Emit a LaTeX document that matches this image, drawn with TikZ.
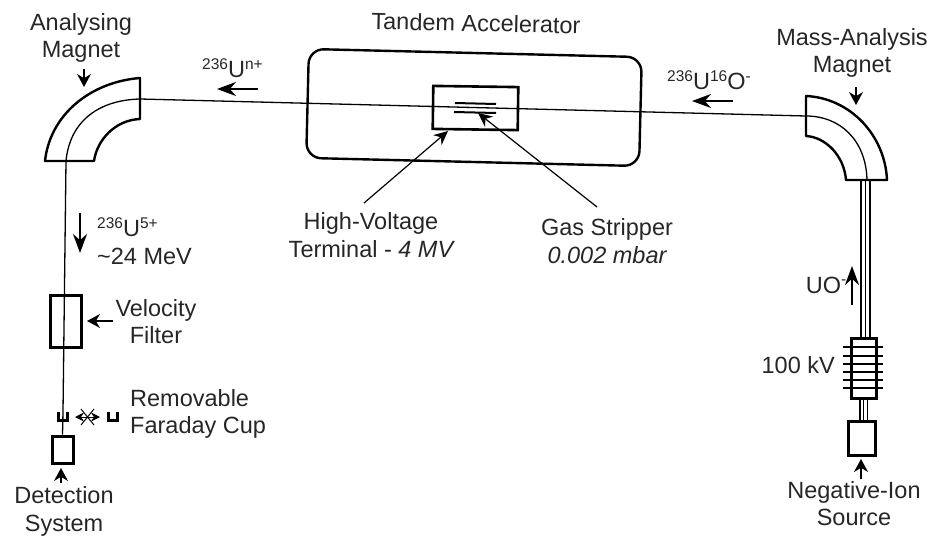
\documentclass[tikz,border=0pt]{standalone}
\usepackage{fontspec}
\setmainfont{Liberation Sans}
\usetikzlibrary{arrows.meta, positioning}
\newcommand{\supr}[1]{\raisebox{8.5pt}{\fontsize{15.5}{15.5}\selectfont #1}}
\tikzset{
    txt/.style={font=\fontsize{23.5}{27.5}\selectfont, align=center, inner sep=0pt, text=black!85},
    beam/.style={line width=1.3pt},
    magnet/.style={draw, line width=2.4pt, line join=round},
    unit/.style={rectangle, draw, line width=3pt, inner sep=0pt},
    pointer/.style={-{Stealth[length=14pt, width=13pt]}, line width=1.2pt},
    smallarrow/.style={-{Stealth[length=13pt, width=14pt]}, line width=1.5pt},
    flowarrow/.style={-{Stealth[length=19pt, width=14pt]}, line width=2pt},
    cup/.style={line width=3.6pt}
}
\begin{document}
\begin{tikzpicture}[x=1pt, y=-1pt]
\useasboundingbox (0,0) rectangle (929,536);

% Accelerator
\node[rectangle, draw, line width=2.4pt, rounded corners=15pt, minimum width=333pt, minimum height=109pt, rotate=-1.4] (tandem) at (474,107.5) {};
\node[unit, line width=2.6pt, minimum width=85pt, minimum height=43pt, rotate=-0.8] (terminal) at (475.5,108) {};
\draw[line width=2pt] (455,103) -- (496,104);
\draw[line width=2pt] (454,112) -- (496,113);

% Analysing magnet
\coordinate (aentry) at (140,99);
\coordinate (aexit) at (66,161);
\draw[magnet] (140,78) .. controls (90,82) and (50,115) .. (45,161) -- (94,161)
    .. controls (97,140) and (115,120) .. (140,119) -- cycle;
\draw[beam] (aentry) .. controls (100,100) and (70,120) .. (aexit);

% Mass-analysis magnet
\coordinate (mentry) at (806,116);
\coordinate (mexit) at (867,180);
\draw[magnet] (806,96) .. controls (850,98) and (885,135) .. (887,180) -- (846,180)
    .. controls (844,155) and (825,137) .. (806,136) -- cycle;
\draw[beam] (mentry) .. controls (840,116) and (866,140) .. (mexit);

% Source side
\node[unit, minimum width=25pt, minimum height=60pt] (insulator) at (863.5,368) {};
\node[unit, minimum width=27pt, minimum height=34pt] (source) at (861.5,438) {};
\foreach \y in {347,356,364,372,380,388}
    \draw[line width=2pt] (843,\y) -- (883,\y);
\foreach \dx in {-2.5,2,6.5}
    \draw[beam] ([xshift=\dx pt]insulator.north) -- ([xshift=\dx pt]insulator.north |- mexit);
\foreach \dx in {-3.5,0,4}
    \draw[beam] ([xshift=\dx pt]insulator.south) -- ([xshift=\dx pt]insulator.south |- source.north);

% Filter and detector
\node[unit, minimum width=31pt, minimum height=52pt] (filter) at (65.5,321) {};
\node[unit, minimum width=21pt, minimum height=27pt] (detector) at (62.5,449.5) {};
\coordinate (cupin) at (63,412);
\foreach \x in {63,113}
    \draw[cup] (\x-4.5,412) -- (\x-4.5,420.5) -- (\x+4.5,420.5) -- (\x+4.5,412);

% Beam
\draw[beam] (aentry) -- (mentry);
\draw[beam] (aexit) -- (cupin) -- (detector.north);

% Cup movement
\draw[{Stealth[length=9pt, width=9pt]}-{Stealth[length=9pt, width=9pt]}, line width=1pt] (75,417) -- (100,417);
\draw[line width=1pt] (81,409) -- (94,425);
\draw[line width=1pt] (81,425) -- (94,409);

% Labels
\node[txt] (analysing) at (81,38) {Analysing\\Magnet};
\node[txt, rotate=-1.2] (tandemtxt) at (476,23) {Tandem Accelerator};
\node[txt] (massmag) at (852,53) {Mass-Analysis\\Magnet};
\node[txt, anchor=west] (unplus) at (202,68) {\supr{236}U\supr{n+}};
\node[txt, anchor=west] (uoxide) at (667,80) {\supr{236}U\supr{16}O\supr{-}};
\node[txt] (hvtxt) at (371,235) {High-Voltage\\Terminal - {\itshape 4 MV}};
\node[txt] (gastxt) at (607,241) {Gas Stripper\\{\itshape 0.002 mbar}};
\node[txt, anchor=west, align=left] (ufive) at (97,241) {\supr{236}U\supr{5+}\\\textasciitilde 24 MeV};
\node[txt] (velocity) at (156,321.5) {Velocity\\Filter};
\node[txt, anchor=west, align=left] (faraday) at (130,414) {Removable\\Faraday Cup};
\node[txt] (detection) at (64,511.5) {Detection\\System};
\node[txt] (uo) at (826,285) {UO\supr{-}};
\node[txt, anchor=east] (hundred) at (835,365) {100 kV};
\node[txt] (negion) at (854,503.5) {Negative-Ion\\Source};

% Callout arrows
\coordinate (hvstart) at (364,203);
\coordinate (hvtip) at (448,131);
\coordinate (gasstart) at (597,207);
\coordinate (gastip) at (478,113);
\draw[pointer] (hvstart) -- (hvtip);
\draw[pointer] (gasstart) -- (gastip);

% Small arrows
\coordinate (astart) at (84,69);
\coordinate (atip) at (84,87);
\coordinate (mstart) at (856,87);
\coordinate (mtip) at (856,105);
\coordinate (fstart) at (113,321);
\coordinate (ftip) at (87,321);
\coordinate (dstart) at (61,483);
\coordinate (dtip) at (61,468);
\coordinate (sstart) at (861,479);
\coordinate (stip) at (861,459);
\draw[smallarrow] (astart) -- (atip);
\draw[smallarrow] (mstart) -- (mtip);
\draw[smallarrow] (fstart) -- (ftip);
\draw[smallarrow] (dstart) -- (dtip);
\draw[smallarrow] (sstart) -- (stip);

% Beam direction
\coordinate (bstart) at (258,89);
\coordinate (btip) at (217,89);
\coordinate (cstart) at (733,101);
\coordinate (ctip) at (692,101);
\coordinate (dnstart) at (80,213);
\coordinate (dntip) at (80,253);
\coordinate (upstart) at (852,305);
\coordinate (uptip) at (852,266);
\draw[flowarrow] (bstart) -- (btip);
\draw[flowarrow] (cstart) -- (ctip);
\draw[flowarrow] (dnstart) -- (dntip);
\draw[flowarrow] (upstart) -- (uptip);

\end{tikzpicture}
\end{document}
